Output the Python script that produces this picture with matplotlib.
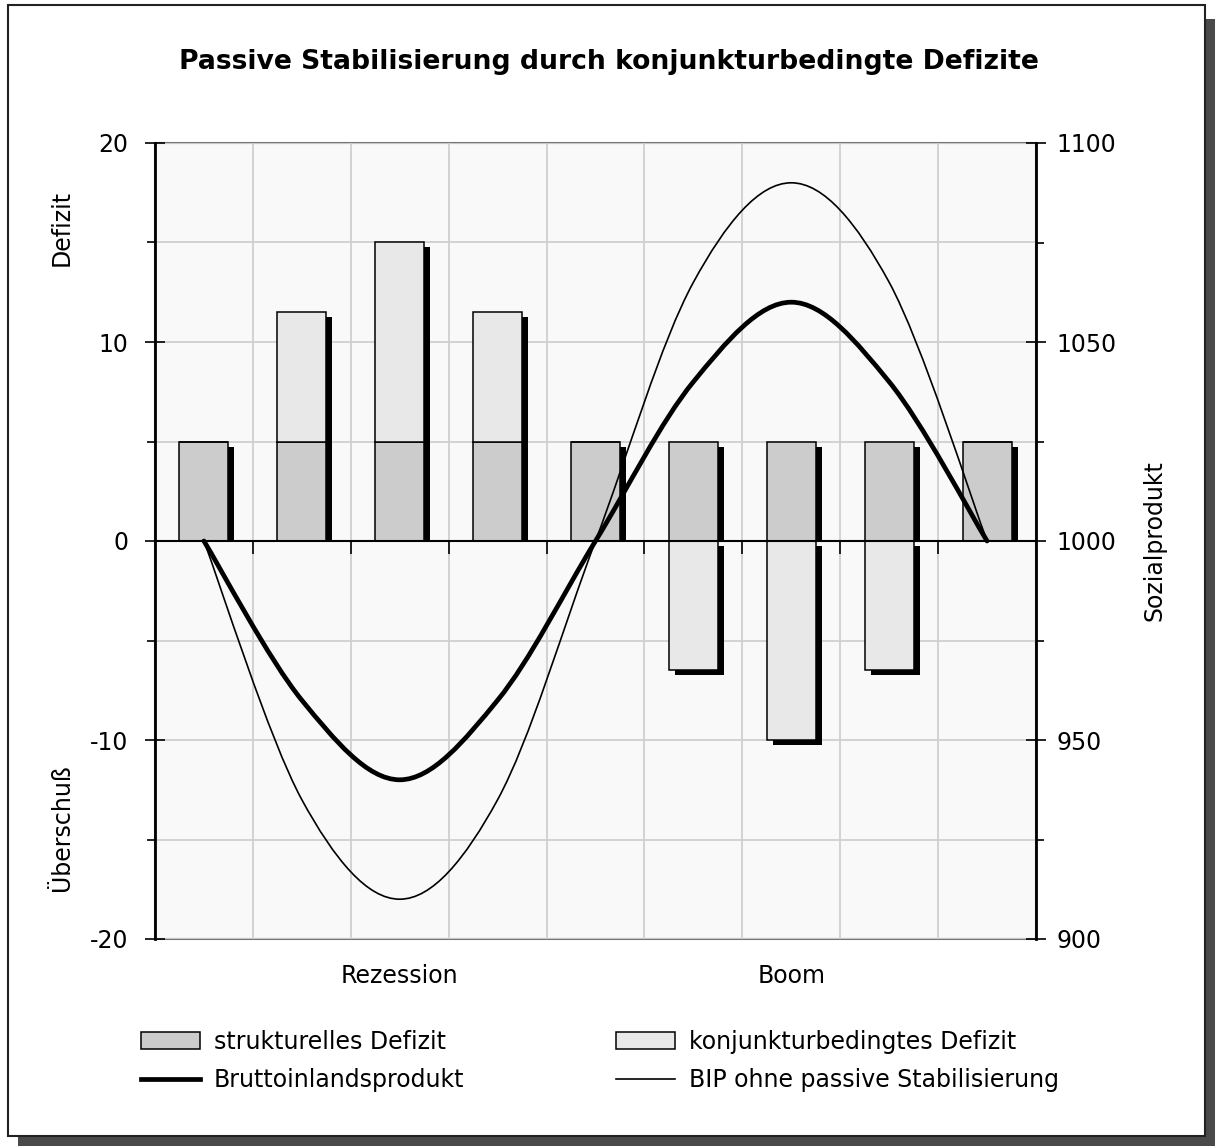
import matplotlib
matplotlib.use("Agg")
import matplotlib.pyplot as plt
import matplotlib.transforms as mtransforms
import numpy as np
from matplotlib.lines import Line2D
from matplotlib.patches import Patch, PathPatch, Rectangle
from matplotlib.path import Path

plt.rcParams["font.family"] = ["DejaVu Sans"]
plt.rcParams["axes.unicode_minus"] = False

# Daten
phasen = ["Rezession", "Boom"]
phasen_pos = [2, 6]
perioden = np.arange(9)
strukturell = [5, 5, 5, 5, 5, 5, 5, 5, 5]
konjunkturell = [0, 6.5, 10, 6.5, 0, -6.5, -10, -6.5, 0]
bip = [1000, 960, 940, 960, 1000, 1040, 1060, 1040, 1000]
bip_ohne = [1000, 935, 910, 935, 1000, 1065, 1090, 1065, 1000]

C_STRUKT = "#cccccc"
C_KONJ = "#e8e8e8"
C_BG = "#f9f9f9"
C_GRID = "#cfcfcf"
FS = 17


def smooth_path(x, y):
    """Excel-artige Glaettung (Catmull-Rom als kubische Bezier)."""
    pts = np.column_stack([x, y]).astype(float)
    ext = np.vstack([pts[0], pts, pts[-1]])
    verts = [pts[0]]
    codes = [Path.MOVETO]
    for i in range(len(pts) - 1):
        p0, p1, p2, p3 = ext[i], ext[i + 1], ext[i + 2], ext[i + 3]
        verts += [p1 + (p2 - p0) / 6, p2 - (p3 - p1) / 6, p2]
        codes += [Path.CURVE4] * 3
    return Path(verts, codes)


fig = plt.figure(figsize=(12.15, 11.46), dpi=100)

# Rahmen mit Schatten
fig.patches.append(Rectangle((8 / 1215 + 0.008, 0.0), 0.9918 - 8 / 1215, 0.9956 - 0.012,
                             transform=fig.transFigure, facecolor="#4a4a4a",
                             edgecolor="none", zorder=-3))
fig.patches.append(Rectangle((8 / 1215, 0.0087), 0.9918 - 8 / 1215, 0.9956 - 0.0087,
                             transform=fig.transFigure, facecolor="white",
                             edgecolor="#222222", linewidth=1.5, zorder=-2))

ax = fig.add_axes([155 / 1215, 207 / 1146, 881 / 1215, 796 / 1146])
ax.set_facecolor(C_BG)
ax.patch.set_edgecolor("#777777")
ax.patch.set_linewidth(1.5)
ax.set_xlim(-0.5, 8.5)
ax.set_ylim(-20, 20)

# Balken: erst Schatten, dann Flaechen
konj = np.array(konjunkturell, dtype=float)
konj_bottom = np.where(konj >= 0, strukturell, 0)
shift = mtransforms.ScaledTranslation(6 / 100, -5 / 100, fig.dpi_scale_trans)
oben = Rectangle((-0.5, 0), 9, 20, transform=ax.transData)
for vals, bottom in [(strukturell, 0), (konj, konj_bottom)]:
    shadow = ax.bar(perioden, vals, bottom=bottom, width=0.5, color="black",
                    linewidth=0, zorder=2)
    for p, v in zip(shadow, vals):
        p.set_transform(ax.transData + shift)
        if v > 0:
            p.set_clip_path(oben)
ax.bar(perioden, strukturell, width=0.5, color=C_STRUKT, edgecolor="black",
       linewidth=1.1, zorder=3)
ax.bar(perioden, konj, bottom=konj_bottom, width=0.5, color=C_KONJ,
       edgecolor="black", linewidth=1.1, zorder=3)

ax.set_yticks([-20, -10, 0, 10, 20])
ax.set_yticks([-15, -5, 5, 15], minor=True)
ax.set_xticks([])
ax.set_xticks(np.arange(0.5, 8.5, 1), minor=True)
ax.set_axisbelow(True)
ax.grid(which="minor", axis="x", color=C_GRID, linewidth=1.3)
ax.grid(which="both", axis="y", color=C_GRID, linewidth=1.3)
ax.tick_params(axis="y", which="major", direction="inout", length=14, width=1.2,
               labelsize=FS, pad=12)
ax.tick_params(axis="y", which="minor", direction="out", length=6, width=1.2)
ax.tick_params(axis="x", which="minor", direction="out", length=9, width=1.2,
               labelbottom=False)
ax.spines["bottom"].set_position(("data", 0))
ax.spines["bottom"].set_linewidth(1.5)
ax.spines["bottom"].set_zorder(4)
ax.spines["left"].set_linewidth(2)
ax.spines["top"].set_visible(False)
ax.spines["right"].set_visible(False)

for name, pos in zip(phasen, phasen_pos):
    ax.text(pos, -0.046, name, transform=ax.get_xaxis_transform(),
            ha="center", va="center", fontsize=FS)

# Sozialprodukt auf rechter Achse
ax2 = ax.twinx()
ax2.set_ylim(900, 1100)
ax2.set_yticks([900, 950, 1000, 1050, 1100])
ax2.set_yticks([925, 975, 1025, 1075], minor=True)
ax2.tick_params(axis="y", which="major", direction="inout", length=14, width=1.2,
                labelsize=FS, pad=8)
ax2.tick_params(axis="y", which="minor", direction="out", length=6, width=1.2)
for s in ["top", "bottom", "left"]:
    ax2.spines[s].set_visible(False)
ax2.spines["right"].set_linewidth(2)

ax2.add_patch(PathPatch(smooth_path(perioden, bip_ohne), facecolor="none",
                        edgecolor="black", linewidth=1.2, zorder=5))
ax2.add_patch(PathPatch(smooth_path(perioden, bip), facecolor="none",
                        edgecolor="black", linewidth=3.4, zorder=6,
                        capstyle="round", joinstyle="round"))

fig.text(609 / 1215, 1 - 62 / 1146, "Passive Stabilisierung durch konjunkturbedingte Defizite",
         ha="center", va="center", fontsize=19.2, fontweight="bold")
fig.text(62 / 1215, 1 - 228 / 1146, "Defizit", rotation=90, ha="center", va="center",
         fontsize=FS)
fig.text(62 / 1215, 1 - 828 / 1146, "Überschuß", rotation=90, ha="center", va="center",
         fontsize=FS)
fig.text(1155 / 1215, 1 - 541 / 1146, "Sozialprodukt", rotation=90, ha="center",
         va="center", fontsize=FS)

# Legende in zwei Spalten
h_strukt = Patch(facecolor=C_STRUKT, edgecolor="black", linewidth=1.1)
h_konj = Patch(facecolor=C_KONJ, edgecolor="black", linewidth=1.1)
h_bip = Line2D([], [], color="black", linewidth=3.4)
h_ohne = Line2D([], [], color="black", linewidth=1.2)
leg_kw = dict(loc="upper left", frameon=False, fontsize=FS, handlelength=2.5,
              handleheight=0.75, handletextpad=0.6, labelspacing=0.6, borderpad=0)
fig.legend([h_strukt, h_bip], ["strukturelles Defizit", "Bruttoinlandsprodukt"],
           bbox_to_anchor=(129 / 1215, 1 - 1018 / 1146), **leg_kw)
fig.legend([h_konj, h_ohne], ["konjunkturbedingtes Defizit", "BIP ohne passive Stabilisierung"],
           bbox_to_anchor=(604 / 1215, 1 - 1018 / 1146), **leg_kw)

fig.savefig("out.png", dpi=100)
